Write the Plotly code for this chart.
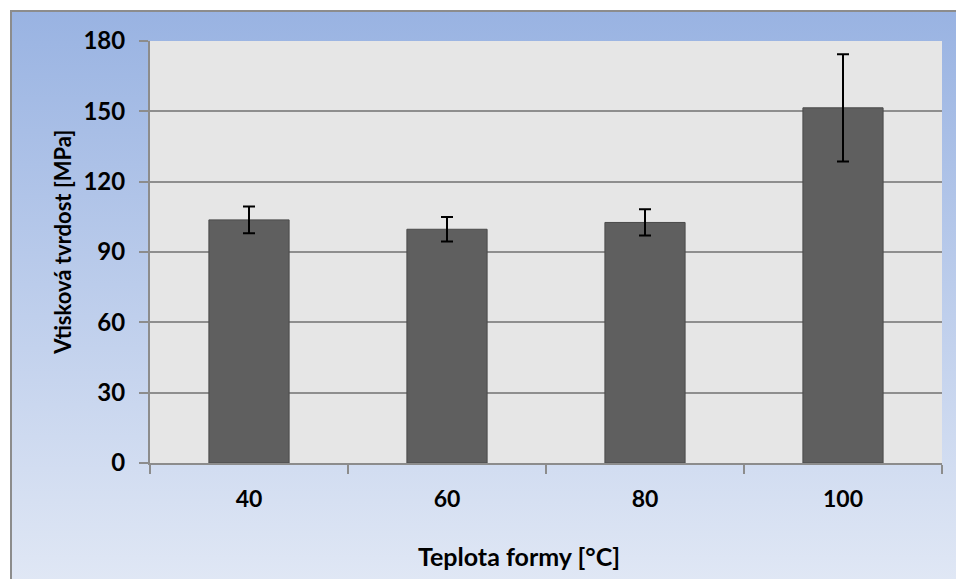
import base64
import plotly.graph_objects as go

# ---- data ----
categories = ["40", "60", "80", "100"]
hardness = [103.7, 99.7, 102.6, 151.5]
hardness_err = [5.7, 5.2, 5.6, 22.9]
y_ticks = [0, 30, 60, 90, 120, 150, 180]
x_title = "Teplota formy [°C]"
y_title = "Vtisková tvrdost [MPa]"

# body margin is removed by the post script, so page pixels == figure pixels
W, H = 956, 579
ML, MT = 150, 41
PR, PB = 942, 463.3
MR, MB = W - PR, H - PB
PW, PH = PR - ML, PB - MT


def px_x(px):
    return (px - ML) / PW


def px_y(py):
    return (PB - py) / PH


FONT = "Lato"

svg = ('<svg xmlns="http://www.w3.org/2000/svg" width="100" height="100" preserveAspectRatio="none">'
       '<defs><linearGradient id="g" x1="0" y1="0" x2="0" y2="1">'
       '<stop offset="0" stop-color="#99B3E2"/><stop offset="1" stop-color="#E1E8F5"/>'
       '</linearGradient></defs><rect width="100" height="100" fill="url(#g)"/></svg>')
svg_uri = "data:image/svg+xml;base64," + base64.b64encode(svg.encode()).decode()

fig = go.Figure()
fig.add_trace(go.Bar(
    x=categories, y=hardness,
    marker=dict(color="#5F5F5F", line=dict(color="#4A4A4A", width=1)),
    error_y=dict(type="data", array=hardness_err, visible=True,
                 color="#000000", thickness=2, width=6),
    width=0.405,
    hoverinfo="skip",
))

fig.update_layout(
    width=W, height=H,
    margin=dict(l=ML, r=MR, t=MT, b=MB),
    paper_bgcolor="#BCCDEB",
    plot_bgcolor="rgba(0,0,0,0)",
    showlegend=False,
    font=dict(family=FONT, color="#000000"),
    images=[dict(source=svg_uri, xref="paper", yref="paper",
                 x=px_x(11), y=px_y(11), sizex=px_x(970) - px_x(11),
                 sizey=px_y(11) - px_y(590), sizing="stretch",
                 xanchor="left", yanchor="top", layer="below")],
    shapes=[
        # white strips above and left of the chart frame
        dict(type="rect", xref="paper", yref="paper",
             x0=px_x(-5), x1=px_x(1000), y0=px_y(11), y1=px_y(-5),
             fillcolor="#FFFFFF", line=dict(width=0), layer="below"),
        dict(type="rect", xref="paper", yref="paper",
             x0=px_x(-5), x1=px_x(11), y0=px_y(620), y1=px_y(-5),
             fillcolor="#FFFFFF", line=dict(width=0), layer="below"),
        dict(type="rect", xref="paper", yref="paper", x0=0, x1=1, y0=0, y1=1,
             fillcolor="#E6E6E6", line=dict(width=0), layer="below"),
        dict(type="rect", xref="paper", yref="paper",
             x0=px_x(11), x1=px_x(1000), y0=px_y(620), y1=px_y(11),
             fillcolor="rgba(0,0,0,0)", line=dict(color="#8C8C8C", width=2),
             layer="above"),
    ],
    annotations=[
        dict(text=f"<b>{x_title}</b>", xref="paper", yref="paper",
             x=px_x(519), y=px_y(556), showarrow=False,
             font=dict(family=FONT, size=25, color="#000000"),
             xanchor="center", yanchor="middle"),
        dict(text=f"<b>{y_title}</b>", xref="paper", yref="paper",
             x=px_x(63), y=px_y(243), showarrow=False, textangle=-90,
             font=dict(family=FONT, size=22, color="#000000"),
             xanchor="center", yanchor="middle"),
    ],
)

fig.update_xaxes(
    type="category", range=[-0.5, 3.5],
    showline=True, linecolor="#8C8C8C", linewidth=2,
    ticks="outside", tickson="boundaries", ticklen=9, tickwidth=2, tickcolor="#8C8C8C",
    showgrid=False,
    tickfont=dict(family=FONT, size=23, color="#000000", weight="bold"),
    ticklabelstandoff=14,
)
fig.update_yaxes(
    range=[0, 180], tickvals=y_ticks,
    showline=True, linecolor="#8C8C8C", linewidth=2,
    ticks="outside", ticklen=9, tickwidth=2, tickcolor="#8C8C8C",
    showgrid=True, gridcolor="#8E8E8E", gridwidth=1.6,
    zeroline=False,
    tickfont=dict(family=FONT, size=24, color="#000000", weight="bold"),
    ticklabelstandoff=9,
)

fig.write_html(
    "out.html",
    config={"displayModeBar": False},
    post_script="document.body.style.margin='0';"
                "document.documentElement.style.overflow='hidden';"
                "document.body.style.overflow='hidden';",
)
